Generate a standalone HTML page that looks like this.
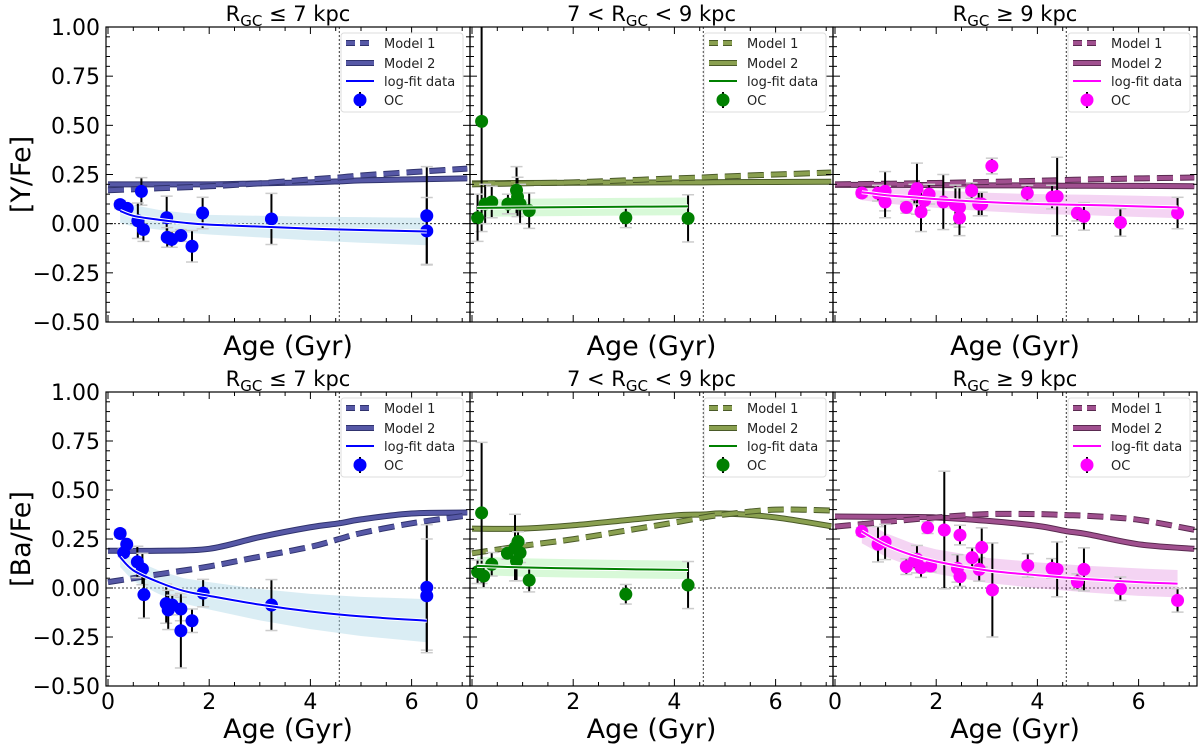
<!DOCTYPE html>
<html><head><meta charset="utf-8"><style>
html,body{margin:0;padding:0;background:#fff;}
svg{display:block;font-family:"DejaVu Sans","Liberation Sans",sans-serif;}
</style></head><body>
<svg id="fig" width="1200" height="747" viewBox="0 0 1200 747" xmlns="http://www.w3.org/2000/svg"></svg>
<script>
// ---------- data ----------
const modelAges = [0,1,2,3,4,4.57,5,6,7.1];
// Y/Fe models
const yM1_in  = [0.17,0.18,0.19,0.205,0.225,0.235,0.245,0.262,0.28];
const yM2_in  = [0.20,0.20,0.20,0.205,0.21,0.215,0.22,0.225,0.23];
const yM1_mid = [0.20,0.205,0.21,0.22,0.23,0.235,0.24,0.25,0.26];
const yM2_mid = [0.205,0.207,0.208,0.209,0.21,0.21,0.211,0.212,0.213];
const yM1_out = [0.20,0.203,0.207,0.212,0.218,0.222,0.225,0.23,0.235];
const yM2_out = [0.197,0.197,0.196,0.195,0.194,0.193,0.193,0.192,0.19];
// Ba/Fe models
const bM1_in  = [0.03,0.07,0.11,0.16,0.21,0.25,0.28,0.33,0.37];
const bM2_in  = [0.19,0.19,0.20,0.26,0.31,0.33,0.35,0.38,0.385];
const bM1_mid = [0.177,0.215,0.249,0.291,0.334,0.36,0.375,0.40,0.395];
const bM2_mid = [0.303,0.303,0.32,0.345,0.37,0.375,0.38,0.36,0.315];
const bM1_out = [0.313,0.337,0.36,0.377,0.377,0.372,0.368,0.348,0.297];
const bM2_out = [0.365,0.363,0.36,0.343,0.317,0.29,0.274,0.223,0.20];

// log-fit curves
const fitAges_in = [0.24,0.5,1,1.5,2,3,4,5,6.3];
const yFit_in  = [0.065,0.04,0.02,0.005,-0.005,-0.015,-0.025,-0.032,-0.04];
const yFitW_in = [0.06,0.055,0.05,0.05,0.05,0.055,0.06,0.065,0.07];
const bFit_in  = [0.157,0.09,0.03,-0.015,-0.04,-0.085,-0.12,-0.145,-0.167];
const bFitW_in = [0.05,0.055,0.06,0.065,0.07,0.08,0.09,0.1,0.11];
const fitAges_mid = [0.1,1,2,3,4.27];
const yFit_mid  = [0.08,0.082,0.084,0.086,0.088];
const yFitW_mid = [0.045,0.045,0.045,0.045,0.045];
const bFit_mid  = [0.113,0.105,0.1,0.096,0.092];
const bFitW_mid = [0.047,0.047,0.047,0.047,0.047];
const fitAges_out = [0.53,1,1.5,2,3,4,5,6,6.77];
const yFit_out  = [0.16,0.145,0.135,0.125,0.11,0.1,0.095,0.088,0.083];
const yFitW_out = [0.04,0.042,0.044,0.045,0.047,0.05,0.052,0.054,0.055];
const bFit_out  = [0.288,0.22,0.17,0.135,0.09,0.065,0.045,0.03,0.022];
const bFitW_out = [0.06,0.06,0.06,0.062,0.064,0.066,0.068,0.07,0.07];

// open clusters
const ocAge_yin = [0.24,0.38,0.66,0.59,0.70,1.16,1.17,1.26,1.44,1.66,1.87,3.23,6.30,6.30];
const ocVal_yin = [0.097,0.078,0.164,0.015,-0.03,0.03,-0.07,-0.08,-0.06,-0.115,0.054,0.024,0.04,-0.037];
const ocErr_yin = [0.02,0.02,0.07,0.09,0.06,0.11,0.05,0.04,0.03,0.08,0.08,0.13,0.25,0.17];
const ocAge_bin = [0.24,0.37,0.31,0.58,0.68,0.71,1.15,1.19,1.27,1.44,1.44,1.66,1.88,3.23,6.30,6.30];
const ocVal_bin = [0.278,0.223,0.18,0.133,0.097,-0.034,-0.08,-0.112,-0.087,-0.107,-0.218,-0.167,-0.026,-0.087,0.003,-0.04];
const ocErr_bin = [0.02,0.02,0.02,0.08,0.08,0.12,0.1,0.1,0.05,0.06,0.19,0.06,0.07,0.13,0.32,0.29];
const ocAge_ymid = [0.19,0.11,0.26,0.39,0.71,0.88,0.90,0.95,1.13,3.04,4.27];
const ocVal_ymid = [0.52,0.03,0.10,0.11,0.10,0.17,0.136,0.10,0.066,0.03,0.027];
const ocErr_ymid = [0.56,0.12,0.1,0.08,0.05,0.12,0.1,0.1,0.09,0.05,0.12];
const ocAge_bmid = [0.19,0.11,0.23,0.39,0.70,0.85,0.91,0.88,0.95,1.13,3.04,4.27];
const ocVal_bmid = [0.383,0.083,0.061,0.121,0.177,0.206,0.237,0.137,0.18,0.04,-0.032,0.015];
const ocErr_bmid = [0.36,0.06,0.06,0.06,0.03,0.17,0.05,0.1,0.05,0.06,0.05,0.12];
const ocAge_yout = [0.53,0.85,0.99,0.99,1.41,1.62,1.70,1.57,1.77,1.86,2.14,2.38,2.46,2.46,2.70,2.84,2.90,3.10,3.80,4.29,4.39,4.79,4.92,5.64,6.77];
const ocVal_yout = [0.156,0.155,0.165,0.11,0.083,0.178,0.06,0.15,0.118,0.15,0.11,0.096,0.083,0.029,0.168,0.10,0.10,0.293,0.155,0.135,0.138,0.054,0.037,0.006,0.054];
const ocErr_yout = [0.02,0.04,0.1,0.08,0.03,0.13,0.1,0.05,0.05,0.05,0.14,0.1,0.1,0.09,0.04,0.06,0.06,0.04,0.04,0.06,0.2,0.04,0.07,0.07,0.08];
const ocAge_bout = [0.53,0.85,0.99,1.41,1.57,1.62,1.70,1.83,1.89,2.16,2.42,2.47,2.47,2.71,2.85,2.90,3.11,3.81,4.29,4.39,4.79,4.92,5.64,6.77];
const ocVal_bout = [0.288,0.223,0.235,0.109,0.138,0.147,0.104,0.308,0.112,0.296,0.10,0.27,0.058,0.155,0.095,0.207,-0.01,0.115,0.10,0.095,0.032,0.095,-0.004,-0.063];
const ocErr_bout = [0.02,0.09,0.09,0.04,0.04,0.07,0.05,0.03,0.03,0.3,0.07,0.05,0.05,0.05,0.06,0.1,0.24,0.06,0.05,0.14,0.04,0.11,0.06,0.06];

const yTicks = [1.00,0.75,0.50,0.25,0.00,-0.25,-0.50];
const yTickLabels = ["1.00","0.75","0.50","0.25","0.00","\u22120.25","\u22120.50"];
const xTicks = [0,2,4,6];
const xTickLabels = ["0","2","4","6"];

// ---------- layout ----------
const svg = document.getElementById('fig');
const NS = 'http://www.w3.org/2000/svg';
function el(tag, attrs, parent){ const e=document.createElementNS(NS,tag); for(const k in attrs) e.setAttribute(k,attrs[k]); (parent||svg).appendChild(e); return e; }

const cols = [{l:106,r:470},{l:470,r:833},{l:833,r:1197}];
const rows = [{t:27,b:322,label:"[Y/Fe]",key:'y'},{t:392,b:686,label:"[Ba/Fe]",key:'b'}];
const XPX = 50.6;
const styles = [
 {name:'inner', title:['R','GC',' \u2264 7 kpc'], pre:'', mc:'#5658a6', me:'#30336e', pc:'#0000ff', band:'rgba(173,216,230,0.45)'},
 {name:'middle', title:['R','GC',' < 9 kpc'], pre:'7 < ', mc:'#8aa050', me:'#4a5a28', pc:'#008000', band:'rgba(144,238,144,0.35)'},
 {name:'outer', title:['R','GC',' \u2265 9 kpc'], pre:'', mc:'#a0508f', me:'#5a2a50', pc:'#ff00ff', band:'rgba(218,112,214,0.3)'}
];
const panelData = {
 y:[{m1:yM1_in,m2:yM2_in,fa:fitAges_in,f:yFit_in,fw:yFitW_in,oa:ocAge_yin,ov:ocVal_yin,oe:ocErr_yin},
    {m1:yM1_mid,m2:yM2_mid,fa:fitAges_mid,f:yFit_mid,fw:yFitW_mid,oa:ocAge_ymid,ov:ocVal_ymid,oe:ocErr_ymid},
    {m1:yM1_out,m2:yM2_out,fa:fitAges_out,f:yFit_out,fw:yFitW_out,oa:ocAge_yout,ov:ocVal_yout,oe:ocErr_yout}],
 b:[{m1:bM1_in,m2:bM2_in,fa:fitAges_in,f:bFit_in,fw:bFitW_in,oa:ocAge_bin,ov:ocVal_bin,oe:ocErr_bin},
    {m1:bM1_mid,m2:bM2_mid,fa:fitAges_mid,f:bFit_mid,fw:bFitW_mid,oa:ocAge_bmid,ov:ocVal_bmid,oe:ocErr_bmid},
    {m1:bM1_out,m2:bM2_out,fa:fitAges_out,f:bFit_out,fw:bFitW_out,oa:ocAge_bout,ov:ocVal_bout,oe:ocErr_bout}]
};

function smoothPath(xs, ys){
  let d = `M${xs[0]},${ys[0]}`;
  for(let i=0;i<xs.length-1;i++){
    const x0=xs[Math.max(i-1,0)], y0=ys[Math.max(i-1,0)];
    const x1=xs[i], y1=ys[i], x2=xs[i+1], y2=ys[i+1];
    const x3=xs[Math.min(i+2,xs.length-1)], y3=ys[Math.min(i+2,xs.length-1)];
    d += ` C${x1+(x2-x0)/6},${y1+(y2-y0)/6} ${x2-(x3-x1)/6},${y2-(y3-y1)/6} ${x2},${y2}`;
  }
  return d;
}

rows.forEach((row, ri)=>{
  cols.forEach((col, ci)=>{
    const st = styles[ci];
    const d = panelData[row.key][ci];
    const X = a => col.l + 2 + a*XPX;
    const Y = v => row.t + (1.0 - v)/1.5*(row.b-row.t);
    const g = el('g',{});
    
    
    const clipId = `clip${ri}${ci}`;
    const cp = el('clipPath',{id:clipId}, g);
    el('rect',{x:col.l,y:row.t,width:col.r-col.l,height:row.b-row.t}, cp);
    const inner = el('g',{'clip-path':`url(#${clipId})`}, g);

    const h0 = el('line',{x1:col.l,x2:col.r,y1:Y(0),y2:Y(0),stroke:'#000','stroke-width':0.8,'stroke-dasharray':'2,2'}, inner);
     
    const vs = el('line',{x1:X(4.57),x2:X(4.57),y1:row.t,y2:row.b,stroke:'#000','stroke-width':0.8,'stroke-dasharray':'2,2'}, inner);
     

    const fx = d.fa.map(X);
    const up = d.f.map((v,i)=>Y(v+d.fw[i])), lo = d.f.map((v,i)=>Y(v-d.fw[i]));
    let bp = `M${fx[0]},${up[0]}`;
    for(let i=1;i<fx.length;i++) bp += ` L${fx[i]},${up[i]}`;
    for(let i=fx.length-1;i>=0;i--) bp += ` L${fx[i]},${lo[i]}`;
    const band = el('path',{d:bp+'Z',fill:st.band,stroke:'none'}, inner);
     

    const mx = modelAges.map(X);
    const p2 = smoothPath(mx, d.m2.map(Y));
    el('path',{d:p2,fill:'none',stroke:st.me,'stroke-width':6}, inner);
    const m2 = el('path',{d:p2,fill:'none',stroke:st.mc,'stroke-width':4}, inner);
     
    const p1 = smoothPath(mx, d.m1.map(Y));
    el('path',{d:p1,fill:'none',stroke:st.me,'stroke-width':6,'stroke-dasharray':'16,7'}, inner);
    const m1 = el('path',{d:p1,fill:'none',stroke:st.mc,'stroke-width':4,'stroke-dasharray':'16,7'}, inner);
     

    d.oa.forEach((a,i)=>{
      const x=X(a), e=d.oe[i];
      const eb = el('line',{x1:x,x2:x,y1:Y(d.ov[i]+e),y2:Y(d.ov[i]-e),stroke:'#000','stroke-width':2}, inner);
       
      [e,-e].forEach(s=>{ el('line',{x1:x-6,x2:x+6,y1:Y(d.ov[i]+s),y2:Y(d.ov[i]+s),stroke:'#ccc','stroke-width':1.5}, inner); });
    });
    d.oa.forEach((a,i)=>{
      const c = el('circle',{cx:X(a),cy:Y(d.ov[i]),r:6.5,fill:st.pc}, inner);
       
    });
    const fp = smoothPath(fx, d.f.map(Y));
    el('path',{d:fp,fill:'none',stroke:'#fff','stroke-width':4}, inner);
    const fl = el('path',{d:fp,fill:'none',stroke:st.pc,'stroke-width':2}, inner);
     

    el('rect',{x:col.l,y:row.t,width:col.r-col.l,height:row.b-row.t,fill:'none',stroke:'#000','stroke-width':1.2}, g);
    for(let a=0;a<=7.1;a+=0.5){
      const major = Math.abs(a%2)<1e-6; const L = major?7:4; const x=X(a);
      if(x>col.r) break;
      el('line',{x1:x,x2:x,y1:row.b,y2:row.b-L,stroke:'#000','stroke-width':1}, g);
      el('line',{x1:x,x2:x,y1:row.t,y2:row.t+L,stroke:'#000','stroke-width':1}, g);
    }
    for(let k=0;k<=30;k++){
      const v=-0.5+k*0.05; const major = k%5===0; const L=major?7:4; const y=Y(v);
      el('line',{x1:col.l,x2:col.l+L,y1:y,y2:y,stroke:'#000','stroke-width':1}, g);
      el('line',{x1:col.r,x2:col.r-L,y1:y,y2:y,stroke:'#000','stroke-width':1}, g);
    }
    if(ci===0){
      yTicks.forEach((v,i)=>{
        const t = el('text',{x:col.l-6,y:Y(v)+8,'text-anchor':'end','font-size':22,fill:'#000'}, g);
        t.textContent = yTickLabels[i];
         
      });
      const yl = el('text',{x:0,y:0,'text-anchor':'middle','font-size':27,fill:'#000',transform:`translate(30,${(row.t+row.b)/2}) rotate(-90)`}, g);
      yl.textContent = row.label;
       
    }
    if(ri===1){
      xTicks.forEach((v,i)=>{
        const t = el('text',{x:X(v),y:row.b+23,'text-anchor':'middle','font-size':22,fill:'#000'}, g);
        t.textContent = xTickLabels[i];
         
      });
    }
    const xl = el('text',{x:(col.l+col.r)/2,y:row.b+(ri===1?52:33),'text-anchor':'middle','font-size':27,fill:'#000'}, g);
    xl.textContent = 'Age (Gyr)';
     

    const tt = el('text',{x:(col.l+col.r)/2,y:row.t-6,'text-anchor':'middle','font-size':21,fill:'#000'}, g);
     
    if(st.pre){ const s0=el('tspan',{},tt); s0.textContent=st.pre; }
    const s1=el('tspan',{},tt); s1.textContent=st.title[0];
    const s2=el('tspan',{'font-size':15,dy:5},tt); s2.textContent=st.title[1];
    const s3=el('tspan',{dy:-5},tt); s3.textContent=st.title[2];

    const lg = el('g',{}, g);
     
    const lx = col.r-129, ly=row.t+6;
    el('rect',{x:lx,y:ly,width:122,height:79,rx:3,fill:'rgba(255,255,255,0.85)',stroke:'#ddd','stroke-width':1}, lg);
    const rowsY=[ly+10,ly+30,ly+48,ly+67];
    const labels=['Model 1','Model 2','log-fit data','OC'];
    el('line',{x1:lx+5,x2:lx+33,y1:rowsY[0],y2:rowsY[0],stroke:st.me,'stroke-width':6,'stroke-dasharray':'9,5'}, lg);
    el('line',{x1:lx+5,x2:lx+33,y1:rowsY[0],y2:rowsY[0],stroke:st.mc,'stroke-width':4,'stroke-dasharray':'9,5'}, lg);
    el('line',{x1:lx+5,x2:lx+33,y1:rowsY[1],y2:rowsY[1],stroke:st.me,'stroke-width':6}, lg);
    el('line',{x1:lx+5,x2:lx+33,y1:rowsY[1],y2:rowsY[1],stroke:st.mc,'stroke-width':4}, lg);
    el('line',{x1:lx+5,x2:lx+33,y1:rowsY[2],y2:rowsY[2],stroke:st.pc,'stroke-width':2}, lg);
    el('line',{x1:lx+19,x2:lx+19,y1:rowsY[3]-8,y2:rowsY[3]+8,stroke:'#000','stroke-width':2}, lg);
    el('circle',{cx:lx+19,cy:rowsY[3],r:6.5,fill:st.pc}, lg);
    labels.forEach((s,i)=>{
      const t=el('text',{x:lx+43,y:rowsY[i]+5,'font-size':13,fill:'#222'}, lg);
      t.textContent=s;
       
    });
  });
});
</script>
</body></html>
